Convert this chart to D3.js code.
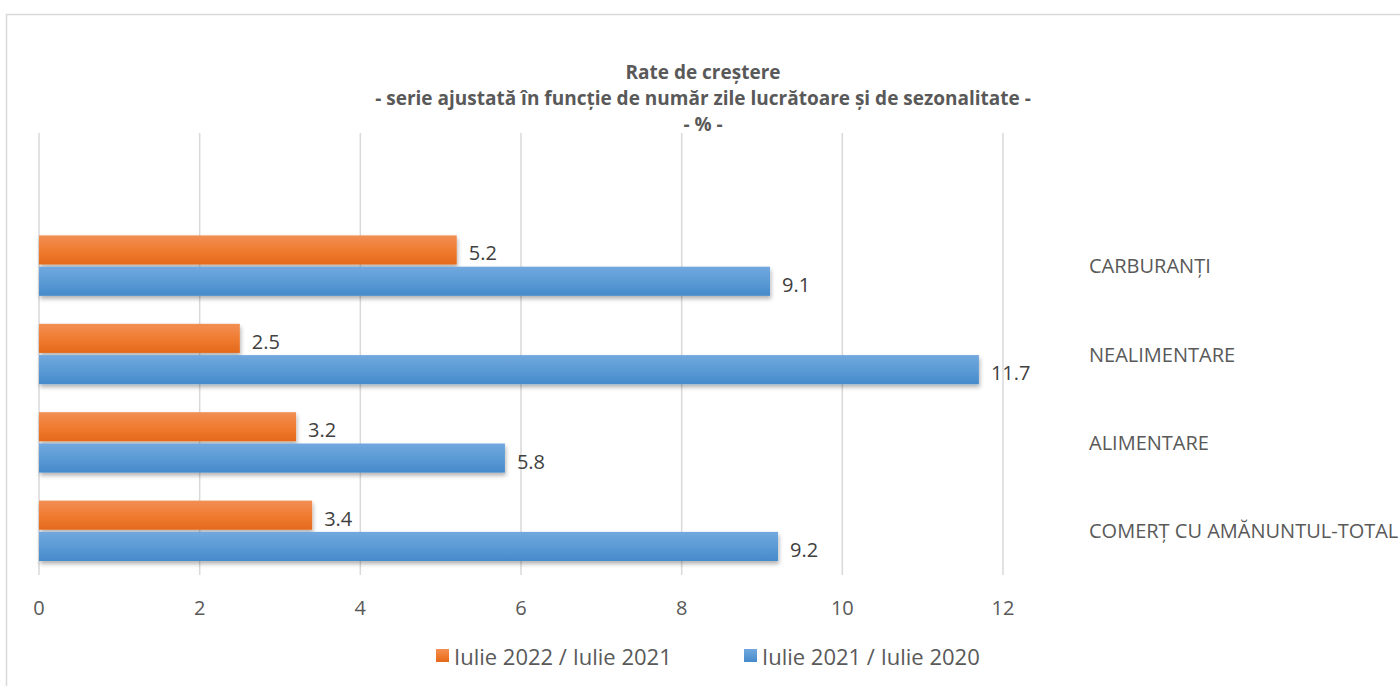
<!DOCTYPE html>
<html lang="ro">
<head>
<meta charset="UTF-8">
<title>Rate de creştere</title>
<script src="https://d3js.org/d3.v7.min.js"></script>
<style>
    body { margin: 0; background: #fff; font-family: "Open Sans", Arial, sans-serif; }
    svg text { fill: #595959; }
</style>
</head>
<body>
<div id="chart"></div>
<script>
    const categories = ["COMERȚ CU AMĂNUNTUL-TOTAL", "ALIMENTARE", "NEALIMENTARE", "CARBURANȚI"];
    const seriesNames = ["Iulie 2022 / Iulie 2021", "Iulie 2021 / Iulie 2020"];
    const values2022 = [3.4, 3.2, 2.5, 5.2];
    const values2021 = [9.2, 5.8, 11.7, 9.1];
    const xTicks = [0, 2, 4, 6, 8, 10, 12];
    const titleLines = [
        "Rate de creştere",
        "- serie ajustată în funcţie de număr zile lucrătoare şi de sezonalitate -",
        "- % -"
    ];

    const W = 1400, H = 686;
    const plot = { left: 39, right: 1003, top: 133, bottom: 575 };

    const svg = d3.select("#chart").append("svg")
        .attr("width", W).attr("height", H);

    const defs = svg.append("defs");
    const grads = [
        { id: "gOrange", stops: ["#f28f55", "#f07c31", "#e4691b"] },
        { id: "gBlue", stops: ["#72a8df", "#5b9bd5", "#468acb"] }
    ];
    grads.forEach(g => {
        const lg = defs.append("linearGradient").attr("id", g.id)
            .attr("x1", 0).attr("y1", 0).attr("x2", 0).attr("y2", 1);
        g.stops.forEach((c, i) => lg.append("stop")
            .attr("offset", i / (g.stops.length - 1)).attr("stop-color", c));
    });
    defs.append("filter").attr("id", "shadow")
        .attr("x", "-5%").attr("y", "-30%").attr("width", "115%").attr("height", "180%")
        .append("feDropShadow")
        .attr("dx", 1).attr("dy", 3).attr("stdDeviation", 2)
        .attr("flood-color", "#000").attr("flood-opacity", 0.3);

    // chart frame
    svg.append("rect")
        .attr("x", 6.5).attr("y", 14.5)
        .attr("width", W + 20).attr("height", H + 20)
        .attr("fill", "#fff").attr("stroke", "#d9d9d9").attr("stroke-width", 1.5);

    const x = d3.scaleLinear().domain([0, 12]).range([plot.left, plot.right]);

    // 5 slots in the plot area, top one is empty
    const slot = (plot.bottom - plot.top) / 5;
    const y = d3.scaleBand().domain(categories)
        .range([plot.bottom, plot.bottom - 4 * slot]);
    const y1 = d3.scaleBand().domain([0, 1])
        .range([14, y.bandwidth() - 14]).paddingInner(0.07);

    // gridlines
    svg.append("g").selectAll("line").data(xTicks).join("line")
        .attr("x1", d => x(d)).attr("x2", d => x(d))
        .attr("y1", plot.top).attr("y2", plot.bottom)
        .attr("stroke", "#d9d9d9").attr("stroke-width", 1.5);

    // x tick labels
    svg.append("g").selectAll("text").data(xTicks).join("text")
        .attr("x", d => x(d)).attr("y", 607)
        .attr("text-anchor", "middle").attr("dominant-baseline", "central")
        .style("font-size", "20px")
        .text(d => d);

    const rows = categories.map((c, i) => ({ cat: c, vals: [values2022[i], values2021[i]] }));
    const fills = ["url(#gOrange)", "url(#gBlue)"];

    const groups = svg.append("g").selectAll("g").data(rows).join("g")
        .attr("transform", d => `translate(0,${y(d.cat)})`);

    groups.selectAll("rect").data(d => d.vals).join("rect")
        .attr("x", x(0))
        .attr("y", (d, i) => y1(i))
        .attr("width", d => x(d) - x(0))
        .attr("height", y1.bandwidth())
        .attr("fill", (d, i) => fills[i])
        .attr("filter", "url(#shadow)");

    groups.selectAll("text.val").data(d => d.vals).join("text")
        .attr("class", "val")
        .attr("x", d => x(d) + 12)
        .attr("y", (d, i) => y1(i) + y1.bandwidth() / 2 + 3)
        .attr("dominant-baseline", "central")
        .style("font-size", "20px").style("fill", "#404040")
        .text(d => d.toFixed(1));

    // category labels on the right
    svg.append("g").selectAll("text").data(categories).join("text")
        .attr("x", 1089)
        .attr("y", d => y(d) + y.bandwidth() / 2)
        .attr("dominant-baseline", "central")
        .style("font-size", "20px")
        .text(d => d);

    // title
    svg.append("g").selectAll("text").data(titleLines).join("text")
        .attr("x", 703).attr("y", (d, i) => 72 + i * 26)
        .attr("text-anchor", "middle").attr("dominant-baseline", "central")
        .style("font-size", "19px").style("font-weight", "bold")
        .text(d => d);

    // legend
    const legend = svg.append("g").attr("transform", "translate(436,656)");
    const legendX = [0, 308];
    seriesNames.forEach((name, i) => {
        const item = legend.append("g").attr("transform", `translate(${legendX[i]},0)`);
        item.append("rect").attr("x", 0).attr("y", -7).attr("width", 13).attr("height", 13)
            .attr("fill", fills[i]);
        item.append("text").attr("x", 18).attr("y", 0)
            .attr("dominant-baseline", "central")
            .style("font-size", "22px")
            .text(name);
    });
</script>
</body>
</html>
